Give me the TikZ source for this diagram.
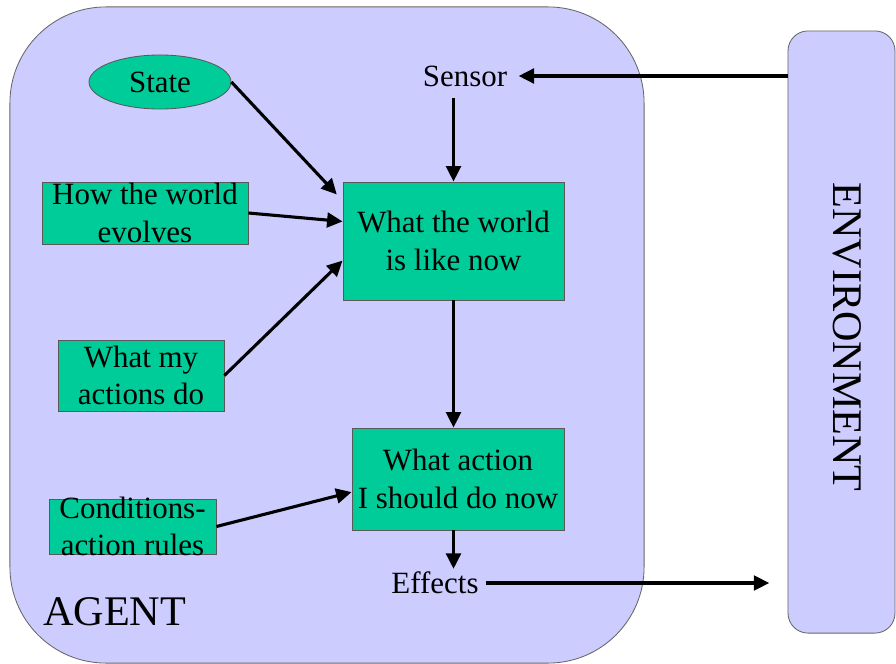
\documentclass[tikz,border=0pt]{standalone}
\usepackage{fontspec}
\setmainfont{Liberation Serif}
\usepackage{xcolor}
\usetikzlibrary{arrows.meta,shapes.geometric}

\definecolor{agentblue}{HTML}{CCCCFF}
\definecolor{boxgreen}{HTML}{00CC99}

\tikzset{
  frame/.style={draw=black!60, fill=agentblue, line width=0.6pt, inner sep=0pt},
  box/.style={draw=black!65, fill=boxgreen, rectangle, line width=0.6pt, inner sep=0pt},
  txt/.style={align=center, inner sep=0pt, font=\fontsize{22}{26.5}\selectfont},
  arr/.style={-{Triangle[length=11pt,width=10.5pt]}, line width=2.2pt},
}

\begin{document}
\begin{tikzpicture}[x=0.025cm, y=-0.025cm]
        \useasboundingbox (0,0) rectangle (896,664);

        % Agent and environment
        \node[frame, rounded corners=2.4cm, minimum width=15.85cm, minimum height=16.4cm] (agent) at (327,335) {};
        \node[frame, rounded corners=0.5cm, minimum width=2.675cm, minimum height=15.05cm] (env) at (841.5,332) {};
        \node[inner sep=0pt, anchor=base west, font=\fontsize{30}{36}\selectfont] (agentlabel) at (43,625) {AGENT};
        \node[inner sep=0pt, rotate=-90, font=\fontsize{30}{36}\selectfont] (envlabel) at (847,337) {ENVIRONMENT};

        % Knowledge
        \node[draw=black!65, fill=boxgreen, ellipse, line width=0.6pt, minimum width=3.55cm, minimum height=1.35cm, inner sep=0pt] (state) at (160,82) {};
        \node[txt] (state-t) at (state) {State};
        \node[box, minimum width=5.15cm, minimum height=1.55cm] (evolve) at (145,213) {};
        \node[txt] (evolve-t) at (evolve) {How the world\\evolves};
        \node[box, minimum width=4.15cm, minimum height=1.775cm] (myactions) at (141,375.5) {};
        \node[txt] (myactions-t) at (myactions) {What my\\actions do};
        \node[box, minimum width=4.175cm, minimum height=1.375cm] (rules) at (132.5,526.5) {};
        \node[txt] (rules-t) at (rules) {Conditions-\\action rules};

        % World model and decision
        \node[box, minimum width=5.525cm, minimum height=2.95cm] (world) at (453.5,241) {};
        \node[txt] (world-t) at (world) {What the world\\is like now};
        \node[box, minimum width=5.3cm, minimum height=2.55cm] (action) at (458,479) {};
        \node[txt] (action-t) at (action) {What action\\I should do now};

        % Sensor and effects
        \node[txt, inner sep=8pt] (sensor) at (465,76) {Sensor};
        \node[txt, inner sep=2pt] (effects) at (435,583) {Effects};

        \draw[arr] (env.west |- sensor.east) -- (sensor.east);
        \draw[arr] (world.north |- sensor.south) -- (world.north);
        \draw[arr, shorten >=6pt] (state.east) -- (world.160);
        \draw[arr] (evolve.east) -- (world.170);
        \draw[arr] (myactions.east) -- (world.190);
        \draw[arr] (world.south) -- (world.south |- action.north);
        \draw[arr] (rules.east) -- (action.187);
        \draw[arr] (world.south |- action.south) -- (world.south |- effects.north);
        \draw[arr, shorten <=3pt, shorten >=13pt] (effects.east) -- (effects.east -| env.west);
    \end{tikzpicture}
\end{document}
